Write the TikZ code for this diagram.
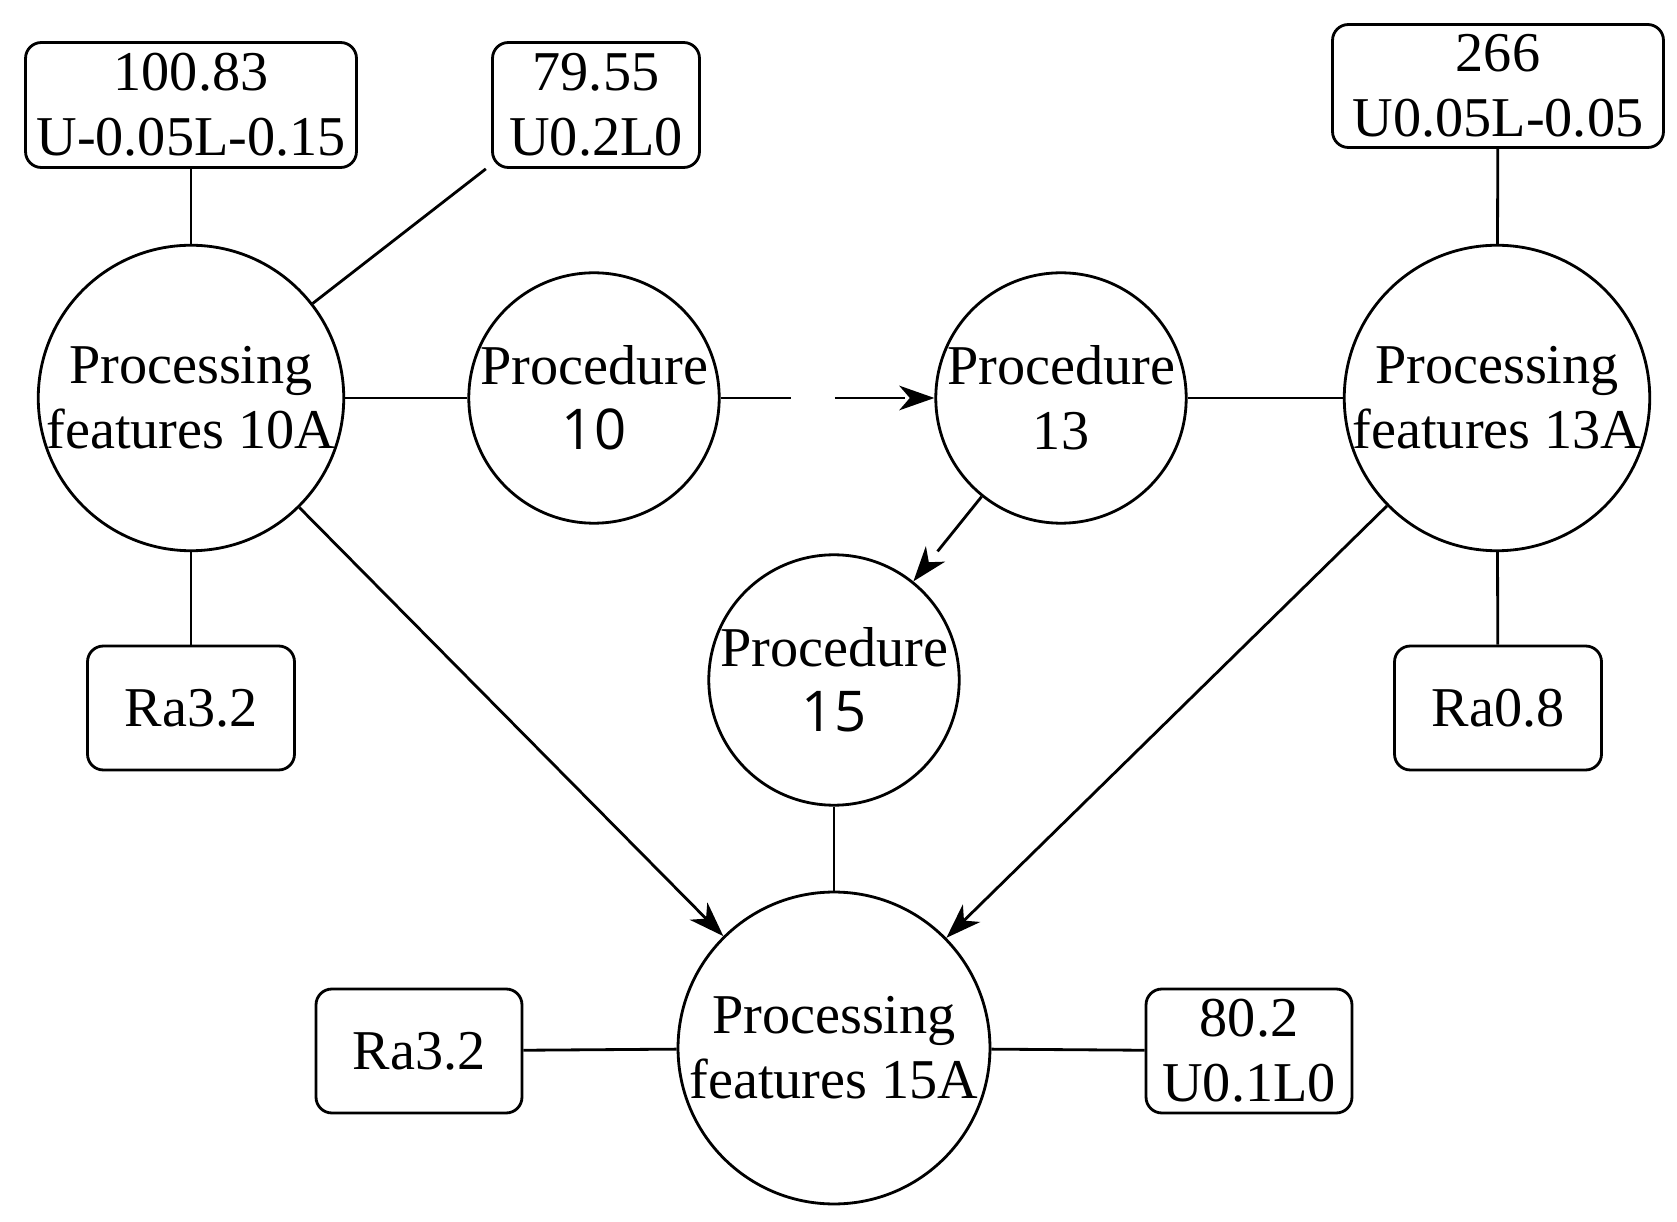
\documentclass[tikz,border=0pt]{standalone}
\usepackage{fontspec}
\setmainfont{Liberation Serif}
\newfontfamily\numsans{Open Sans}
\usetikzlibrary{arrows.meta}
\begin{document}
\begin{tikzpicture}[x=0.02cm,y=-0.02cm,
  every node/.style={font=\fontsize{32}{37}\selectfont, align=center, inner sep=0pt},
  circ/.style={draw, circle, line width=1.6pt},
  box/.style={draw, rounded corners=9pt, line width=1.6pt},
  ln/.style={line width=1.6pt},
  arr/.style={line width=1.6pt, -{Stealth[length=20pt,width=14pt,inset=6pt]}},
  dsh/.style={arr, dash pattern=on 40pt off 25pt}]
\useasboundingbox (0,0) rectangle (1677,1222);
\node[circ, minimum size=294\pgflinewidth*0+5.88cm] (a) at (191,398) {Processing\\features 10A};
\node[circ, minimum size=4.96cm] (p10) at (594,398) {Procedure\\{\numsans 10}};
\node[circ, minimum size=4.96cm] (p13) at (1061,398) {Procedure\\13};
\node[circ, minimum size=5.88cm] (c) at (1497,398) {Processing\\features 13A};
\node[circ, minimum size=4.76cm] (p15) at (834,680) {Procedure\\{\numsans 15}};
\node[circ, minimum size=6.24cm] (e) at (834,1048) {Processing\\features 15A};
\node[box, minimum width=6.62cm, minimum height=2.5cm] (b1) at (191,105) {100.83\\U-0.05L-0.15};
\node[box, minimum width=4.14cm, minimum height=2.5cm] (b2) at (596,105) {79.55\\U0.2L0};
\node[box, minimum width=6.62cm, minimum height=2.46cm] (b3) at (1498,86) {266\\U0.05L-0.05};
\node[box, minimum width=4.14cm, minimum height=2.48cm] (b4) at (191,708) {Ra3.2};
\node[box, minimum width=4.14cm, minimum height=2.48cm] (b5) at (1498,708) {Ra0.8};
\node[box, minimum width=4.12cm, minimum height=2.48cm] (b6) at (419,1051) {Ra3.2};
\node[box, minimum width=4.12cm, minimum height=2.48cm] (b7) at (1249,1051) {80.2\\U0.1L0};
\draw[ln] (a) -- (b1);
\draw[ln] (a) -- ([xshift=-3pt]b2.south west);
\draw[ln] (a) -- (b4);
\draw[ln] (a) -- (p10);
\draw[ln] (p13) -- (c);
\draw[ln] (c) -- (b3);
\draw[ln] (c) -- (b5);
\draw[ln] (p15) -- (e);
\draw[ln] (e) -- (b6);
\draw[ln] (e) -- (b7);
\draw[dsh] (p10) -- (p13);
\draw[dsh] (p13) -- (p15);
\draw[arr] (a) -- (e);
\draw[arr] (c) -- (e);
\end{tikzpicture}
\end{document}
